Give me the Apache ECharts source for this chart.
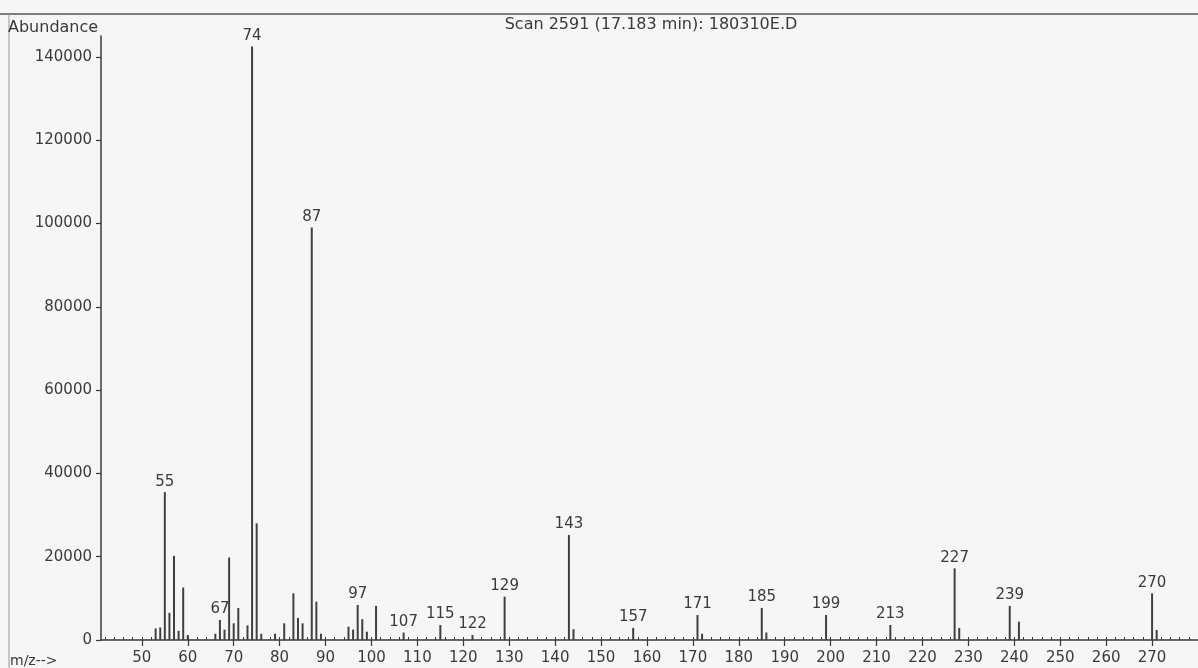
<!DOCTYPE html>
<html>
<head>
<meta charset="utf-8">
<script src="https://cdn.jsdelivr.net/npm/echarts@6/dist/echarts.min.js"></script>
<style>
  html, body { margin: 0; padding: 0; background: #f6f6f6; }
  #chart { width: 1198px; height: 668px; }
</style>
</head>
<body>
<div id="chart"></div>
<script>
// Mass spectrum: m/z positions and their abundances
const mzValues = [53, 54, 55, 56, 57, 58, 59, 60, 66, 67, 68, 69, 70, 71, 73, 74, 75, 76, 79,
  81, 83, 84, 85, 87, 88, 89, 95, 96, 97, 98, 99, 101, 107, 115, 122, 129, 143, 144,
  157, 171, 172, 185, 186, 199, 213, 227, 228, 239, 241, 270, 271];
const abundances = [2800, 3000, 35500, 6500, 20200, 2200, 12600, 1200, 1500, 4800, 2500, 19800, 4000, 7700, 3500, 142500, 28000, 1500, 1500,
  4000, 11200, 5300, 4000, 99000, 9200, 1500, 3200, 2500, 8400, 5000, 2000, 8200, 1800, 3600, 1200, 10400, 25200, 2600,
  2900, 6000, 1500, 7700, 1800, 6000, 3600, 17200, 2900, 8200, 4400, 11200, 2400];
// peaks that carry an m/z label
const labelledPeaks = [55, 67, 74, 87, 97, 107, 115, 122, 129, 143, 157, 171, 185, 199, 213, 227, 239, 270];
// axis tick labels
const mzTicks = [50, 60, 70, 80, 90, 100, 110, 120, 130, 140, 150, 160, 170, 180, 190, 200, 210, 220, 230, 240, 250, 260, 270];
const abundanceTicks = [0, 20000, 40000, 60000, 80000, 100000, 120000, 140000];

const titleText = 'Scan 2591 (17.183 min): 180310E.D';
const yName = 'Abundance';
const xName = 'm/z-->';

const MZ_MIN = 41.1, MZ_MAX = 280;
const AB_MAX = 145000;

const minorMz = [];
for (let v = 42; v <= 280; v += 2) minorMz.push(v);
const minorAb = [];
for (let v = 0; v <= 140000; v += 5000) minorAb.push(v);

const FONT = 'DejaVu Sans';
const INK = '#3a3a3a';

const peakData = mzValues.map((mz, i) => {
  const item = { value: [mz, abundances[i]] };
  if (labelledPeaks.indexOf(mz) >= 0) {
    item.label = { show: true };
  }
  return item;
});

const chart = echarts.init(document.getElementById('chart'), null, { renderer: 'canvas' });

const baseXAxis = {
  type: 'value',
  min: MZ_MIN,
  max: MZ_MAX,
  splitLine: { show: false },
  axisLine: { show: false }
};
const baseYAxis = {
  type: 'value',
  min: 0,
  max: AB_MAX,
  splitLine: { show: false },
  axisLine: { show: false }
};

chart.setOption({
  backgroundColor: '#f6f6f6',
  animation: false,
  grid: { left: 101, right: 0, top: 36, bottom: 28, containLabel: false },
  xAxis: [
    Object.assign({}, baseXAxis, {
      axisLine: { show: true, onZero: false, lineStyle: { color: INK, width: 1.5 } },
      axisTick: { show: true, length: 6, customValues: mzTicks, lineStyle: { color: INK, width: 1.2 } },
      axisLabel: { show: true, customValues: mzTicks, margin: 11, color: INK, fontFamily: FONT, fontSize: 15, formatter: v => String(v) }
    }),
    Object.assign({}, baseXAxis, {
      axisTick: { show: true, length: 3, customValues: minorMz, lineStyle: { color: INK, width: 1 } },
      axisLabel: { show: false }
    })
  ],
  yAxis: [
    Object.assign({}, baseYAxis, {
      axisLine: { show: true, onZero: false, lineStyle: { color: INK, width: 1.5 } },
      axisTick: { show: true, length: 5, customValues: abundanceTicks, lineStyle: { color: INK, width: 1.2 } },
      axisLabel: { show: true, customValues: abundanceTicks, margin: 9, color: INK, fontFamily: FONT, fontSize: 15, formatter: v => String(v) }
    }),
    Object.assign({}, baseYAxis, {
      axisTick: { show: true, length: 3, customValues: minorAb, lineStyle: { color: INK, width: 1 } },
      axisLabel: { show: false }
    })
  ],
  series: [{
    type: 'bar',
    xAxisIndex: 0,
    yAxisIndex: 0,
    barWidth: 2,
    itemStyle: { color: '#404040' },
    label: {
      show: false,
      position: 'top',
      distance: 3,
      color: INK,
      fontFamily: FONT,
      fontSize: 15,
      formatter: p => String(p.value[0])
    },
    data: peakData
  }],
  graphic: [
    { type: 'line', shape: { x1: 0, y1: 14, x2: 1198, y2: 14 }, style: { stroke: '#555', lineWidth: 1.5 } },
    { type: 'line', shape: { x1: 9, y1: 14, x2: 9, y2: 668 }, style: { stroke: '#999', lineWidth: 1 } },
    { type: 'text', x: 651, y: 25, style: { text: titleText, font: '16px "DejaVu Sans"', fill: INK, textAlign: 'center', textVerticalAlign: 'middle' } },
    { type: 'text', x: 8, y: 28, style: { text: yName, font: '16px "DejaVu Sans"', fill: INK, textAlign: 'left', textVerticalAlign: 'middle' } },
    { type: 'text', x: 10, y: 661, style: { text: xName, font: '14px "DejaVu Sans"', fill: INK, textAlign: 'left', textVerticalAlign: 'middle' } }
  ]
});
</script>
</body>
</html>
